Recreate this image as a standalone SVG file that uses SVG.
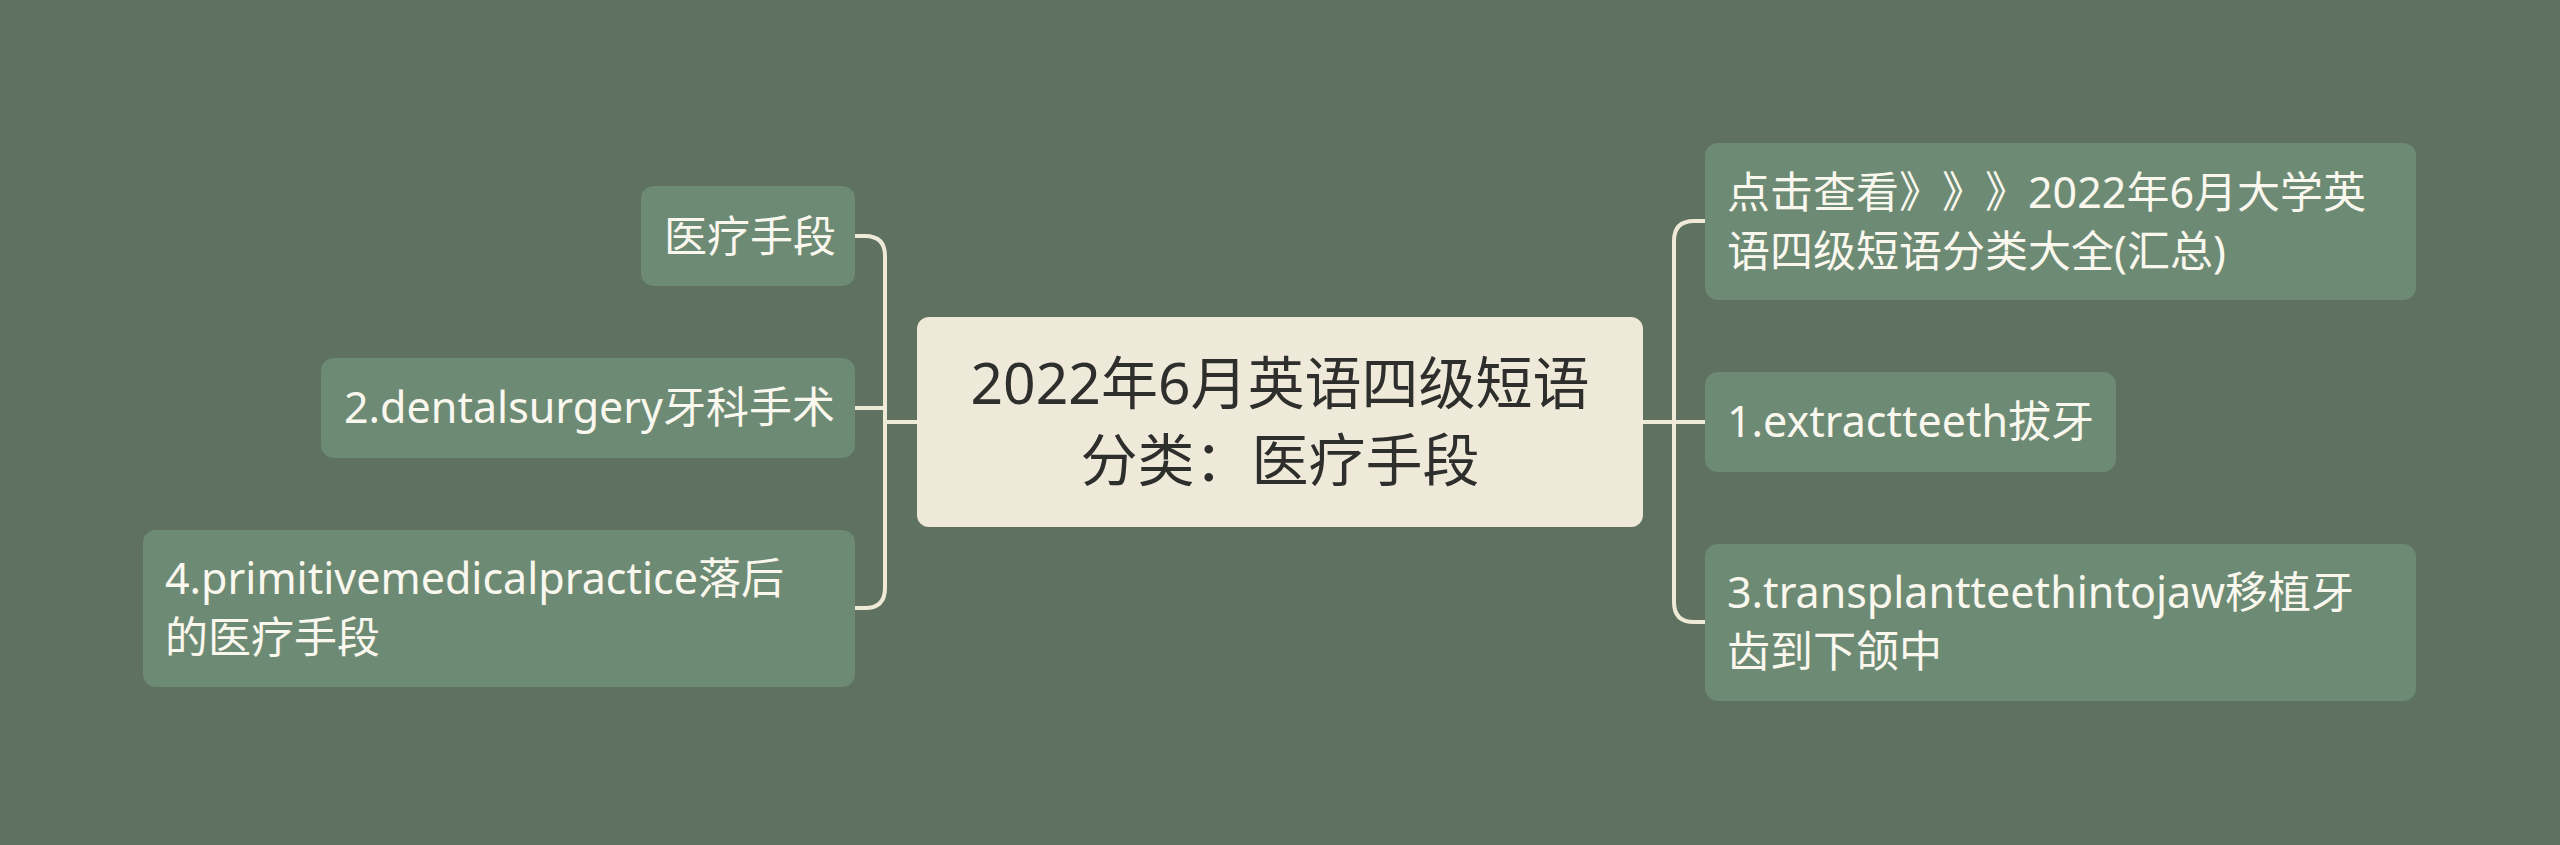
<svg xmlns="http://www.w3.org/2000/svg" width="2560" height="845" viewBox="0 0 2560 845">
<style>
.bg{fill:#5f7262}
.node{fill:#6d8b74}
.center{fill:#efe9d9}
.conn{fill:none;stroke:#efe9d8;stroke-width:4;stroke-linecap:round;stroke-linejoin:round}
.t{font-family:"Noto Sans","Noto Sans CJK SC",sans-serif;font-size:43px;fill:#faf7ee;text-spacing-trim:space-all}
.cjk{font-family:"Noto Sans CJK SC",sans-serif}
.ct{font-family:"Noto Sans","Noto Sans CJK SC",sans-serif;font-size:57px;fill:#2e2e2c;text-anchor:middle;text-spacing-trim:space-all}
</style>
<rect class="bg" x="0" y="0" width="2560" height="845"/>
<g id="connectors">
<path class="conn" d="M918,422 H885"/>
<path class="conn" d="M855,236 H865 Q885,236 885,256 V588 Q885,608 865,608 H855"/>
<path class="conn" d="M855,408 H885"/>
<path class="conn" d="M1643,422 H1674"/>
<path class="conn" d="M1706,221 H1694 Q1674,221 1674,241 V602 Q1674,622 1694,622 H1706"/>
<path class="conn" d="M1674,422 H1706"/>
</g>
<g id="center">
<rect class="center" x="917" y="317" width="726" height="210" rx="12"/>
<text class="ct" x="1280" y="404">2022年6月英语四级短语</text>
<text class="ct" x="1280" y="481">分类：医疗手段</text>
</g>
<g id="node-left-1">
<rect class="node" x="641" y="186" width="214" height="100" rx="13"/>
<text class="t" x="664" y="252">医疗手段</text>
</g>
<g id="node-left-2">
<rect class="node" x="321" y="358" width="534" height="100" rx="13"/>
<text class="t" x="344" y="423">2.dentalsurgery牙科手术</text>
</g>
<g id="node-left-3">
<rect class="node" x="143" y="530" width="712" height="157" rx="13"/>
<text class="t" x="165" y="594">4.primitivemedicalpractice落后</text>
<text class="t" x="165" y="653">的医疗手段</text>
</g>
<g id="node-right-1">
<rect class="node" x="1705" y="143" width="711" height="157" rx="13"/>
<text class="t" x="1727" y="208"><tspan class="cjk">点击查看》》》</tspan>2022年6月大学英</text>
<text class="t" x="1727" y="267">语四级短语分类大全(汇总)</text>
</g>
<g id="node-right-2">
<rect class="node" x="1705" y="372" width="411" height="100" rx="13"/>
<text class="t" x="1727" y="437">1.extractteeth拔牙</text>
</g>
<g id="node-right-3">
<rect class="node" x="1705" y="544" width="711" height="157" rx="13"/>
<text class="t" x="1727" y="608">3.transplantteethintojaw移植牙</text>
<text class="t" x="1727" y="667">齿到下颌中</text>
</g>
</svg>
